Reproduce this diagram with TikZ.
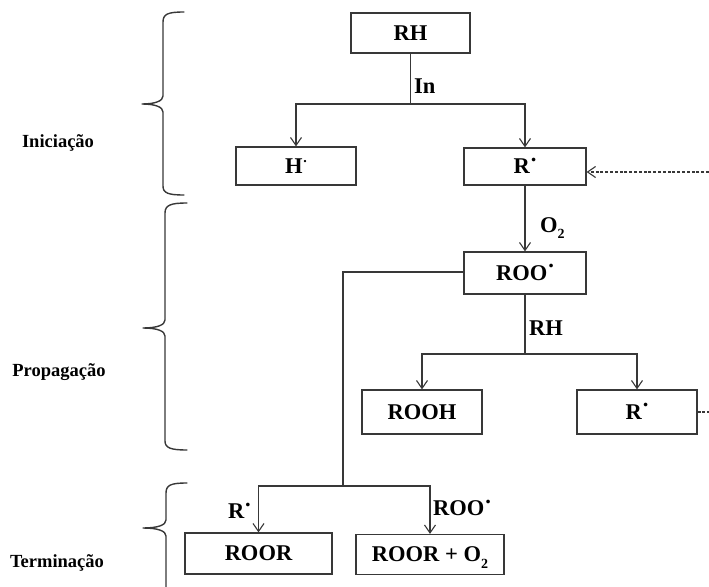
\documentclass[tikz,border=0pt]{standalone}
\usepackage{fontspec}
\setmainfont{Liberation Serif}
\usetikzlibrary{arrows.meta}
% raised radical dot
\newcommand\rad{\kern0.04em\raisebox{0.56em}{.}}
\newcommand\smallrad{\kern0.03em\raisebox{0.5em}{\fontsize{14pt}{14pt}\selectfont .}}
\newcommand\subtwo{\raisebox{-0.28em}{\fontsize{14pt}{14pt}\selectfont 2}}
\tikzset{
  ink/.style={draw=black!78},
  box/.style={ink, line width=1.2pt, inner sep=0pt, text height=14.8pt, text depth=0pt,
    font=\fontsize{22.5pt}{22.5pt}\selectfont\bfseries},
  lbl/.style={inner sep=0pt, font=\fontsize{22.5pt}{22.5pt}\selectfont\bfseries},
  side/.style={inner sep=0pt, font=\fontsize{18.5pt}{18.5pt}\selectfont\bfseries},
  link/.style={ink, line width=1.2pt},
  arr/.style={ink, line width=1.2pt, -{Straight Barb[length=8pt,width=11pt,line width=1.1pt]}},
  dotted link/.style={ink, line width=1.1pt, dash pattern=on 3pt off 1.8pt},
  brace/.style={ink, line width=1.4pt, line cap=round, line join=round}
}
\begin{document}
\begin{tikzpicture}[x=1pt,y=-1pt]
\useasboundingbox (0,0) rectangle (709,586);

% boxes
\node[box, minimum width=119pt, minimum height=40pt] (rh)   at (410.5,33)  {RH};
\node[box, minimum width=120pt, minimum height=38pt] (h)    at (296,166)   {H\smallrad};
\node[box, minimum width=122pt, minimum height=37pt] (r1)   at (525,166.5) {R\rad};
\node[box, minimum width=122pt, minimum height=42pt] (roo)  at (525,273)   {ROO\rad};
\node[box, minimum width=120pt, minimum height=44pt] (rooh) at (422,412)   {ROOH};
\node[box, minimum width=120pt, minimum height=44pt] (r2)   at (637,412)   {R\rad};
\node[box, minimum width=147pt, minimum height=41pt] (roor) at (258.5,553.5) {ROOR};
\node[box, minimum width=148pt, minimum height=40pt] (roor2) at (430,554.5) {ROOR + O\subtwo};

% junctions
\coordinate (j1) at (410.5,104);
\coordinate (j2) at (525,354);
\coordinate (j3) at (343,486);
\coordinate (j3top) at (343,272);
\coordinate (e1) at (709,172);
\coordinate (e2) at (709,412);

% initiation
\draw[link] (rh.south) -- (j1);
\draw[arr] (j1) -| (h.north);
\draw[arr] (j1) -| (r1.north);
\node[lbl, anchor=west] (lin) at (414,86) {In};

% propagation
\draw[arr] (r1.south) -- (roo.north);
\node[lbl, anchor=west] (lo2) at (540,228) {O\subtwo};
\draw[link] (roo.south) -- (j2);
\draw[arr] (j2) -| (rooh.north);
\draw[arr] (j2) -| (r2.north);
\node[lbl, anchor=west] (lrh) at (529,328) {RH};

% termination
\draw[link] (roo.west |- j3top) -- (j3top) -- (j3);
\draw[arr] (j3) -| (roor.north);
\draw[arr] (j3) -| (roor2.north);
\node[lbl, anchor=east] (lr) at (251,511) {R\rad};
\node[lbl, anchor=west] (lroo) at (433,508) {ROO\rad};

% recycled radical
\draw[dotted link, -{Straight Barb[length=8pt,width=11pt,line width=1.1pt]}] (e1) -- (r1.east |- e1);
\draw[dotted link] (r2.east |- e2) -- (e2);

% braces
\draw[brace] (184,12) .. controls (168,12) and (163,14) .. (163,22)
  -- (163,96) .. controls (163,101) and (155,104) .. (142,104)
  .. controls (155,104) and (163,107) .. (163,112)
  -- (163,186) .. controls (163,193) and (168,195) .. (184,195);
\draw[brace] (187,203) .. controls (171,203) and (165,205) .. (165,213)
  -- (165,320) .. controls (165,325) and (157,328) .. (143,328)
  .. controls (157,328) and (165,331) .. (165,336)
  -- (165,441) .. controls (165,448) and (171,450) .. (187,450);
\draw[brace] (187,483) .. controls (171,483) and (166,485) .. (166,493)
  -- (166,520) .. controls (166,525) and (158,528) .. (143,528)
  .. controls (158,528) and (166,531) .. (166,536)
  -- (166,590);

% stage names
\node[side] (ini) at (58,143) {Iniciação};
\node[side] (pro) at (59,372) {Propagação};
\node[side] (ter) at (57,563) {Terminação};
\end{tikzpicture}
\end{document}
